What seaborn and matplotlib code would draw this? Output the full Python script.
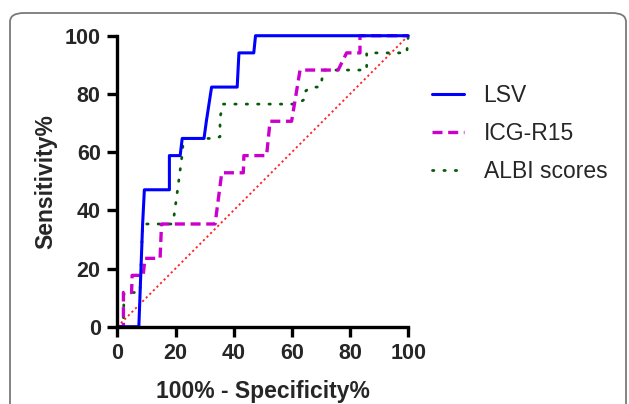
import numpy as np
import pandas as pd
import seaborn as sns
import matplotlib.pyplot as plt
from matplotlib.patches import FancyBboxPatch

# ROC 曲線資料 (100% - Specificity%, Sensitivity%)
lsv_x = [0, 7.4, 8.7, 9.3, 17.9, 17.9, 21.6, 22.3, 29.8, 30.6, 32.4, 41.2, 41.8, 46.9, 47.5, 100]
lsv_y = [0, 0, 35.3, 47.06, 47.06, 58.8, 58.8, 64.7, 64.7, 70.6, 82.35, 82.35, 94.1, 94.1, 100, 100]

icg_x = [0, 2.1, 2.1, 4.9, 5.1, 8.9, 9.5, 14.7, 15.2, 33.6, 35.9, 43.3, 43.5, 51.3, 52.5, 59.9, 62.8, 75.9, 78.8, 83.4, 83.4, 100]
icg_y = [0, 0, 11.76, 11.76, 17.65, 17.65, 23.5, 23.5, 35.3, 35.3, 52.9, 52.9, 58.8, 58.8, 70.6, 70.6, 88.2, 88.2, 94.1, 94.1, 100, 100]

albi_x = [0, 2.1, 2.3, 7.8, 8.7, 18.7, 19.3, 20.4, 22.5, 22.5, 33.6, 35.3, 35.3, 36.4, 61.6, 64.5, 64.8, 66.8, 69.7, 70.2, 70.8, 85.1, 85.7, 85.7, 99.5, 99.7, 100]
albi_y = [0, 2.3, 11.76, 11.76, 35.3, 35.3, 36.7, 44.7, 60.7, 64.7, 64.7, 65.3, 72, 76.5, 76.5, 78.2, 81.1, 82.35, 82.35, 84.2, 88.2, 88.2, 88.2, 94.1, 94.1, 97, 100]

ref_x = [0, 100]
ref_y = [0, 100]

names = ["LSV", "ICG-R15", "ALBI scores"]

sns.set_style("ticks")
plt.rcParams['font.family'] = ['Liberation Sans', 'DejaVu Sans']

fig = plt.figure(figsize=(6.29, 4.04), dpi=100)
ax = fig.add_axes([0.1865, 0.1913, 0.4626, 0.7203])

# 外框
frame = FancyBboxPatch((10 / 629, -0.1), 616 / 629, 0.1 + (404 - 13) / 404,
                       boxstyle="round,pad=0,rounding_size=0.022",
                       transform=fig.transFigure, fill=False,
                       edgecolor="#7a7a7a", linewidth=1.3, clip_on=False)
fig.patches.append(frame)

sns.lineplot(x=ref_x, y=ref_y, ax=ax, color="#ff2020", linewidth=1.3,
             linestyle=(0, (1.2, 1.6)), clip_on=False)
sns.lineplot(x=albi_x, y=albi_y, ax=ax, sort=False, estimator=None,
             color="#0a5a0a", linewidth=2.0, linestyle=(0, (0.5, 3.6)),
             dash_capstyle="round", label=names[2], clip_on=False)
sns.lineplot(x=icg_x, y=icg_y, ax=ax, sort=False, estimator=None,
             color="#cc00cc", linewidth=2.4, linestyle=(0, (3.0, 1.7)),
             label=names[1], clip_on=False)
sns.lineplot(x=lsv_x, y=lsv_y, ax=ax, sort=False, estimator=None,
             color="#0000ff", linewidth=2.2, label=names[0], clip_on=False)

ax.set_xlim(0, 100)
ax.set_ylim(0, 100)
ax.set_xticks([0, 20, 40, 60, 80, 100])
ax.set_yticks([0, 20, 40, 60, 80, 100])
sns.despine(ax=ax)
for s in ["left", "bottom"]:
    ax.spines[s].set_linewidth(2.4)
    ax.spines[s].set_color("black")
ax.tick_params(width=2.4, length=7, color="black", labelsize=15.5, pad=5)
for t in ax.get_xticklabels() + ax.get_yticklabels():
    t.set_fontweight("bold")

ax.set_xlabel("100% - Specificity%", fontsize=16.5, fontweight="bold", labelpad=11)
ax.set_ylabel("Sensitivity%", fontsize=16.5, fontweight="bold", labelpad=5)

handles, labels = ax.get_legend_handles_labels()
order = [labels.index(n) for n in names]
ax.legend([handles[i] for i in order], names, loc="upper left",
          bbox_to_anchor=(1.05, 0.866), frameon=False, fontsize=16.5,
          handlelength=1.4, handletextpad=0.85, labelspacing=0.65,
          borderaxespad=0.0)

fig.savefig("out.png", dpi=100)
